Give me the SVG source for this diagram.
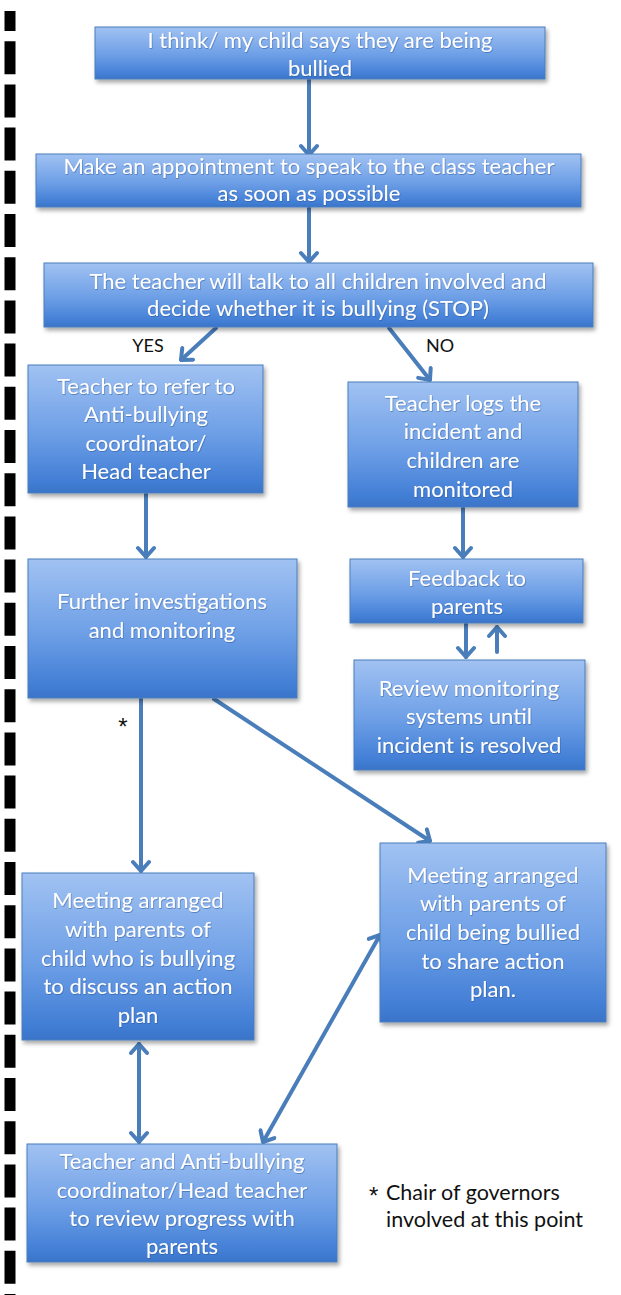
<svg xmlns="http://www.w3.org/2000/svg" width="621" height="1295" viewBox="0 0 621 1295">
<defs>
<linearGradient id="boxGrad" x1="0" y1="0" x2="0" y2="1">
<stop offset="0" stop-color="#a1c2f2"/>
<stop offset="0.55" stop-color="#6c9ee6"/>
<stop offset="0.9" stop-color="#437fd6"/>
<stop offset="1" stop-color="#3a74c8"/>
</linearGradient>
<filter id="shadow" x="-10%" y="-10%" width="125%" height="130%">
<feDropShadow dx="2" dy="3" stdDeviation="2" flood-color="#000" flood-opacity="0.35"/>
</filter>
<filter id="tshadow" x="-5%" y="-20%" width="110%" height="150%">
<feDropShadow dx="0.6" dy="0.8" stdDeviation="0.6" flood-color="#1f4f90" flood-opacity="0.6"/>
</filter>
<marker id="arrow" viewBox="-12 -10 14 20" refX="0" refY="0" markerWidth="14" markerHeight="20" markerUnits="userSpaceOnUse" orient="auto-start-reverse">
<path d="M -9 -8 L 0 0 L -9 8" fill="none" stroke="#4a7ebb" stroke-width="4" stroke-linecap="round" stroke-linejoin="round"/>
</marker>
</defs>
<style>
.box { fill: url(#boxGrad); stroke: #4a7ebb; stroke-width: 1; filter: url(#shadow); }
.bt { font-family: Lato, "Liberation Sans", sans-serif; font-size: 22px; fill: #ffffff; text-anchor: middle; filter: url(#tshadow); }
.lbl { font-family: Lato, "Liberation Sans", sans-serif; font-size: 18px; fill: #111111; }
.fn { font-family: Lato, "Liberation Sans", sans-serif; font-size: 21.5px; fill: #111111; }
.ast { font-family: "Liberation Sans", sans-serif; font-size: 24px; fill: #111111; }
.conn { fill: none; stroke: #4a7ebb; stroke-width: 4; stroke-linecap: round; marker-end: url(#arrow); }
.dbl { marker-start: url(#arrow); }
</style>
<rect x="0" y="0" width="621" height="1295" fill="#ffffff"/>
<line x1="10" y1="11" x2="10" y2="1295" stroke="#000000" stroke-width="11" stroke-dasharray="33 10.2" stroke-dashoffset="13"/>

<g id="connectors">
<line class="conn" x1="309" y1="80" x2="309" y2="155"/>
<line class="conn" x1="309" y1="208" x2="309" y2="262"/>
<line class="conn" x1="216" y1="328" x2="181" y2="360"/>
<line class="conn" x1="389" y1="328" x2="430" y2="380"/>
<line class="conn" x1="146" y1="494" x2="146" y2="557"/>
<line class="conn" x1="463" y1="508" x2="463" y2="557"/>
<line class="conn" x1="466" y1="624" x2="466" y2="657"/>
<line class="conn" x1="497" y1="652" x2="497" y2="627"/>
<line class="conn" x1="141" y1="699" x2="141" y2="871"/>
<line class="conn" x1="214" y1="699" x2="430" y2="841"/>
<line class="conn dbl" x1="139" y1="1044" x2="139" y2="1142"/>
<line class="conn dbl" x1="380" y1="935" x2="263" y2="1142"/>
</g>

<g id="n1">
<rect class="box" x="95" y="27" width="450" height="52"/>
<text class="bt" x="320" y="48">I think/ my child says they are being</text>
<text class="bt" x="320" y="76">bullied</text>
</g>
<g id="n2">
<rect class="box" x="36" y="154" width="545" height="53"/>
<text class="bt" x="309" y="174">Make an appointment to speak to the class teacher</text>
<text class="bt" x="309" y="201">as soon as possible</text>
</g>
<g id="n3">
<rect class="box" x="44" y="263" width="549" height="64"/>
<text class="bt" x="318" y="289">The teacher will talk to all children involved and</text>
<text class="bt" x="318" y="316">decide whether it is bullying (STOP)</text>
</g>
<g id="n4">
<rect class="box" x="28" y="365" width="235" height="128"/>
<text class="bt" x="146" y="394">Teacher to refer to</text>
<text class="bt" x="146" y="422">Anti-bullying</text>
<text class="bt" x="146" y="451">coordinator/</text>
<text class="bt" x="146" y="479">Head teacher</text>
</g>
<g id="n5">
<rect class="box" x="348" y="382" width="230" height="125"/>
<text class="bt" x="463" y="411">Teacher logs the</text>
<text class="bt" x="463" y="439">incident and</text>
<text class="bt" x="463" y="468">children are</text>
<text class="bt" x="463" y="497">monitored</text>
</g>
<g id="n6">
<rect class="box" x="28" y="559" width="269" height="139"/>
<text class="bt" x="162" y="609">Further investigations</text>
<text class="bt" x="162" y="638">and monitoring</text>
</g>
<g id="n7">
<rect class="box" x="350" y="559" width="233" height="64"/>
<text class="bt" x="467" y="586">Feedback to</text>
<text class="bt" x="467" y="614">parents</text>
</g>
<g id="n8">
<rect class="box" x="354" y="660" width="231" height="110"/>
<text class="bt" x="469" y="696">Review monitoring</text>
<text class="bt" x="469" y="724">systems until</text>
<text class="bt" x="469" y="753">incident is resolved</text>
</g>
<g id="n9">
<rect class="box" x="22" y="873" width="232" height="167"/>
<text class="bt" x="138" y="908">Meeting arranged</text>
<text class="bt" x="138" y="937">with parents of</text>
<text class="bt" x="138" y="966">child who is bullying</text>
<text class="bt" x="138" y="994">to discuss an action</text>
<text class="bt" x="138" y="1023">plan</text>
</g>
<g id="n10">
<rect class="box" x="380" y="843" width="226" height="179"/>
<text class="bt" x="493" y="883">Meeting arranged</text>
<text class="bt" x="493" y="911">with parents of</text>
<text class="bt" x="493" y="940">child being bullied</text>
<text class="bt" x="493" y="969">to share action</text>
<text class="bt" x="493" y="997">plan.</text>
</g>
<g id="n11">
<rect class="box" x="27" y="1144" width="310" height="118"/>
<text class="bt" x="182" y="1169">Teacher and Anti-bullying</text>
<text class="bt" x="182" y="1198">coordinator/Head teacher</text>
<text class="bt" x="182" y="1226">to review progress with</text>
<text class="bt" x="182" y="1254">parents</text>
</g>

<g id="labels">
<text class="lbl" x="148" y="352" text-anchor="middle">YES</text>
<text class="lbl" x="440" y="352" text-anchor="middle">NO</text>
<text class="ast" x="123" y="735" text-anchor="middle">*</text>
<text class="ast" x="369" y="1204">*</text>
<text class="fn" x="386" y="1200">Chair of governors</text>
<text class="fn" x="386" y="1227">involved at this point</text>
</g>
</svg>
